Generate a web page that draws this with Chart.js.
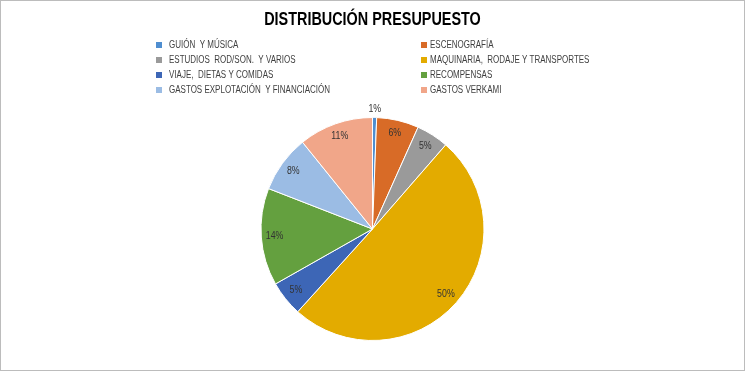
<!DOCTYPE html>
<html>
<head>
<meta charset="utf-8">
<script src="https://cdn.jsdelivr.net/npm/chart.js@4"></script>
<style>
  html, body { margin: 0; padding: 0; background: #fff; }
  #wrap { position: relative; width: 745px; height: 371px; }
  #chart { outline: 1px solid #bcbcbc; outline-offset: -1px; }
</style>
</head>
<body>
<div id="wrap"><canvas id="chart" width="745" height="371"></canvas></div>
<script>
const titleText = 'DISTRIBUCIÓN PRESUPUESTO';

const categories = [
  'GUIÓN  Y MÚSICA',
  'ESCENOGRAFÍA',
  'ESTUDIOS  ROD/SON.  Y VARIOS',
  'MAQUINARIA,  RODAJE Y TRANSPORTES',
  'VIAJE,  DIETAS Y COMIDAS',
  'RECOMPENSAS',
  'GASTOS EXPLOTACIÓN  Y FINANCIACIÓN',
  'GASTOS VERKAMI'
];

// share of budget, percent
const shares = [0.6, 6.1, 4.7, 50.3, 5.1, 14.1, 8.3, 10.8];

const colors = ['#4f8ed0', '#d86b27', '#9a9a9a', '#e3ab00', '#3d66b6', '#64a03f', '#9bbce4', '#f1a689'];

const font = '"Liberation Sans", Arial, sans-serif';

// text squeezed horizontally, the original uses a narrow font
function narrowText(ctx, txt, x, y, sx) {
  ctx.save();
  ctx.translate(x, y);
  ctx.scale(sx, 1);
  ctx.fillText(txt, 0, 0);
  ctx.restore();
}

const titlePlugin = {
  id: 'narrowTitle',
  afterDraw(chart) {
    const ctx = chart.ctx;
    ctx.save();
    ctx.font = 'bold 18px ' + font;
    ctx.fillStyle = '#000';
    ctx.textAlign = 'center';
    ctx.textBaseline = 'middle';
    narrowText(ctx, titleText, chart.width / 2, 20, 0.8);
    ctx.restore();
  }
};

// legend in two fixed columns like the original
const legendPlugin = {
  id: 'twoColLegend',
  afterDraw(chart) {
    const ctx = chart.ctx;
    const cols = [156, 421];
    const gap = [13, 9];
    const rows = [45, 60, 75, 90];
    ctx.save();
    ctx.font = '10px ' + font;
    ctx.textBaseline = 'middle';
    categories.forEach((c, i) => {
      const x = cols[i % 2];
      const y = rows[Math.floor(i / 2)];
      ctx.fillStyle = colors[i];
      ctx.fillRect(x, y - 3, 6, 6);
      ctx.fillStyle = '#3f3f3f';
      narrowText(ctx, c, x + gap[i % 2], y + 0.5, 0.8);
    });
    ctx.restore();
  }
};

// percent labels on slices
const pctPlugin = {
  id: 'pctLabels',
  afterDatasetsDraw(chart) {
    const ctx = chart.ctx;
    const meta = chart.getDatasetMeta(0);
    const total = shares.reduce((a, b) => a + b, 0);
    ctx.save();
    ctx.font = '10px ' + font;
    ctx.fillStyle = '#333333';
    ctx.textAlign = 'center';
    ctx.textBaseline = 'middle';
    meta.data.forEach((arc, i) => {
      const p = arc.getProps(['x', 'y', 'startAngle', 'endAngle', 'outerRadius']);
      const mid = (p.startAngle + p.endAngle) / 2;
      const pct = shares[i] / total * 100;
      const r = pct < 2 ? p.outerRadius + 8 : p.outerRadius * 0.88;
      const lbl = Math.max(1, Math.round(pct)) + '%';
      narrowText(ctx, lbl, p.x + Math.cos(mid) * r, p.y + Math.sin(mid) * r, 0.88);
    });
    ctx.restore();
  }
};

new Chart('chart', {
  type: 'pie',
  data: {
    labels: categories,
    datasets: [{
      data: shares,
      backgroundColor: colors,
      borderColor: '#ffffff',
      borderWidth: 1
    }]
  },
  options: {
    responsive: false,
    animation: false,
    layout: { padding: { top: 117, bottom: 30 } },
    plugins: {
      legend: { display: false },
      tooltip: { enabled: false },
      title: { display: false }
    }
  },
  plugins: [titlePlugin, legendPlugin, pctPlugin]
});
</script>
</body>
</html>
